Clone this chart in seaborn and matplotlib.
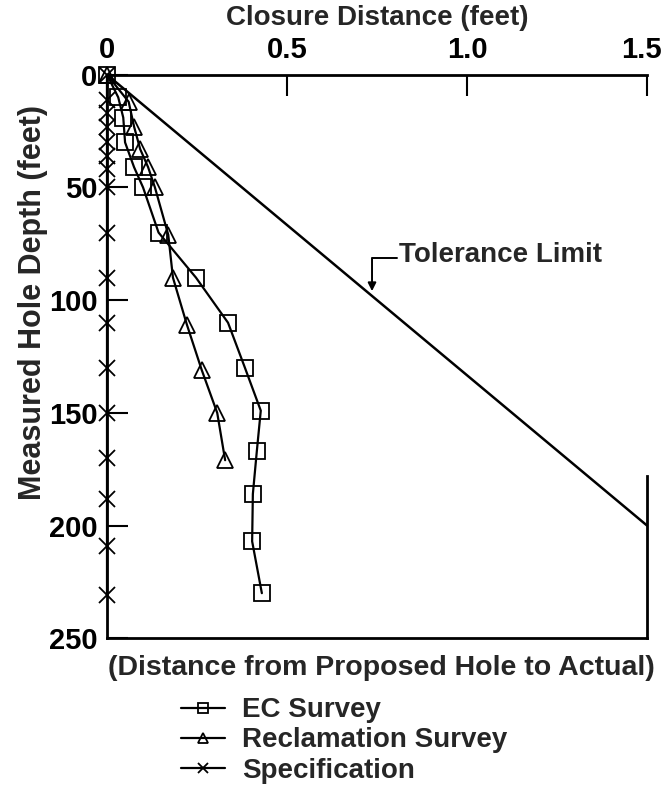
import matplotlib
matplotlib.use("Agg")
import matplotlib.pyplot as plt
import matplotlib.transforms as mtransforms
import seaborn as sns

sns.set_theme(style="white")
plt.rcParams['font.family'] = ['Liberation Sans', 'DejaVu Sans']

# data (depth in feet, closure distance in feet)
ec_depth = [0, 10, 19, 30, 41, 50, 70, 90, 110, 130, 149, 167, 186, 207, 230]
ec_closure = [0, 0.031, 0.045, 0.05, 0.075, 0.10, 0.143, 0.247, 0.336, 0.383, 0.427, 0.416, 0.405, 0.403, 0.43]

rec_depth = [0, 12, 23, 33, 41, 50, 71, 90, 111, 131, 150, 171]
rec_closure = [0, 0.06, 0.075, 0.092, 0.114, 0.133, 0.17, 0.183, 0.222, 0.263, 0.306, 0.328]

spec_depth = [0, 11, 17, 23, 30, 36, 42, 50, 70, 90, 110, 130, 150, 170, 188, 209, 231]
spec_closure = [0] * len(spec_depth)

tol_depth = [0, 200]
tol_closure = [0, 1.5]

x_ticks = [0, 0.5, 1.0, 1.5]
x_ticklabels = ["0", "0.5", "1.0", "1.5"]
y_ticks = [0, 50, 100, 150, 200, 250]

fig = plt.figure(figsize=(6.65, 7.87), dpi=100)
ax = fig.add_axes([0.161, 0.189, 0.812, 0.716])

common = dict(color="black", sort=False, estimator=None, linewidth=1.6,
              markeredgecolor="black", markeredgewidth=1.3, clip_on=False)

sns.lineplot(x=tol_closure, y=tol_depth, ax=ax, color="black", sort=False,
             estimator=None, linewidth=1.8)
sns.lineplot(x=ec_closure, y=ec_depth, ax=ax, marker="s", markersize=11,
             fillstyle="none", label="EC Survey", **common)
sns.lineplot(x=rec_closure, y=rec_depth, ax=ax, marker="^", markersize=11,
             fillstyle="none", label="Reclamation Survey", **common)
sns.lineplot(x=spec_closure, y=spec_depth, ax=ax, marker="x", markersize=12,
             label="Specification", **common)

ax.set_xlim(0, 1.5)
ax.set_ylim(250, 0)
ax.xaxis.tick_top()
ax.xaxis.set_label_position("top")
ax.set_xticks(x_ticks)
ax.set_xticklabels(x_ticklabels)
ax.set_yticks(y_ticks)
ax.tick_params(axis="both", direction="in", length=15, width=1.5,
               labelsize=21, colors="black")
ax.tick_params(axis="x", bottom=False, top=True, pad=8)
ax.tick_params(axis="y", left=True, right=False, pad=7)
for lab in ax.get_xticklabels() + ax.get_yticklabels():
    lab.set_fontweight("bold")
# keep the last top label inside the figure
last = ax.get_xticklabels()[-1]
last.set_transform(last.get_transform() + mtransforms.ScaledTranslation(-6 / 100, 0, fig.dpi_scale_trans))

ax.set_xlabel("Closure Distance (feet)", fontsize=20, fontweight="bold", labelpad=8)
ax.set_ylabel("Measured Hole Depth (feet)", fontsize=22, fontweight="bold")
ax.yaxis.set_label_coords(-0.11, 0.595)

for side in ["top", "left", "bottom", "right"]:
    ax.spines[side].set_color("black")
    ax.spines[side].set_linewidth(2)
ax.spines["right"].set_bounds(178, 250)

# tolerance limit callout
ax.annotate("", xy=(0.736, 96), xytext=(0.736, 81.5),
            arrowprops=dict(arrowstyle="-|>", color="black", lw=1.4,
                            mutation_scale=12, shrinkA=0, shrinkB=0))
ax.plot([0.736, 0.805], [81.5, 81.5], color="black", lw=1.4)
ax.text(0.81, 80, "Tolerance Limit", fontsize=20, fontweight="bold",
        ha="left", va="center")

fig.text(0.163, 0.151, "(Distance from Proposed Hole to Actual)", fontsize=20.5,
         fontweight="bold", ha="left", va="center")
ax.legend(loc="upper left", bbox_to_anchor=(0.272, 0.114), bbox_transform=fig.transFigure,
          frameon=False, prop={"size": 20, "weight": "bold"}, handlelength=1.6,
          handletextpad=0.6, labelspacing=0.15, borderpad=0, borderaxespad=0,
          markerscale=0.65)

fig.savefig("out.png", dpi=100)
